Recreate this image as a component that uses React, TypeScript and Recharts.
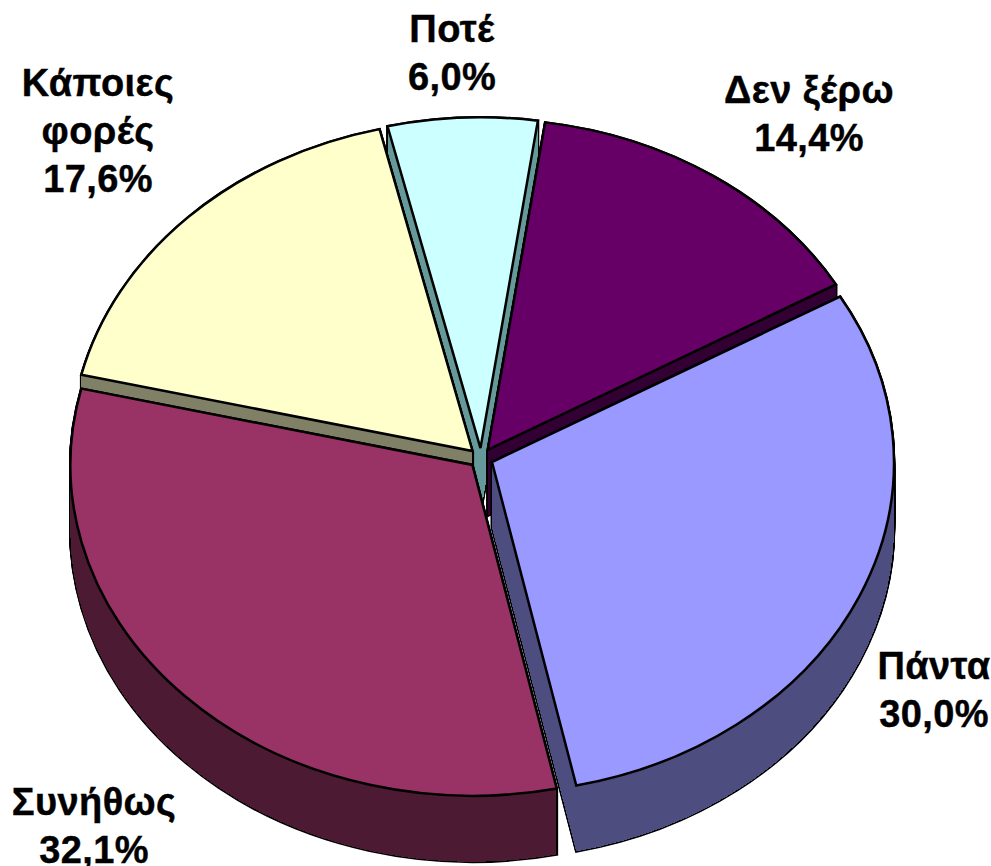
import { PieChart, Pie, Sector } from "recharts";

const categories = ["Πάντα", "Συνήθως", "Κάποιες φορές", "Ποτέ", "Δεν ξέρω"];
const shares = [30.0, 32.1, 17.6, 6.0, 14.4];
const topColors = ["#9999FF", "#993366", "#FFFFCC", "#CCFFFF", "#660066"];
const wallColors = ["#4D4D80", "#4D1A33", "#808066", "#669999", "#330033"];
const labelLines = [["Πάντα"], ["Συνήθως"], ["Κάποιες", "φορές"], ["Ποτέ"], ["Δεν ξέρω"]];

// back to front, a later slice has to hide the walls of the earlier ones
const paintOrder = [3, 4, 2, 0, 1];

// label anchor (middle, first baseline) relative to the pie centre
const labelAnchors = [
  [453, 221],
  [-387, 357],
  [-383, -362],
  [-29, -416],
  [328, -355],
];

const CX = 481;
const CY = 458;
const RADIUS = 402;
const TILT = 0.823;
const DEPTH = 66;
const EXPLODE = 12;

const data = categories.map((name, i) => ({ name, value: shares[i] }));
const depthSteps = Array.from({ length: DEPTH + 1 }, (_, i) => DEPTH - i);

function slice(props: any, step: number, fill: string, stroke: string, strokeWidth: number) {
  const { cx, cy, outerRadius, startAngle, endAngle } = props;
  const mid = (((startAngle + endAngle) / 2) * Math.PI) / 180;
  const dx = EXPLODE * Math.cos(mid);
  const dy = -EXPLODE * Math.sin(mid);
  return (
    <g
      key={`${fill}-${stroke}-${step}`}
      transform={`translate(${cx} ${cy + step}) scale(1 ${TILT}) translate(${dx} ${dy}) translate(${-cx} ${-cy})`}
    >
      <Sector
        cx={cx}
        cy={cy}
        innerRadius={0}
        outerRadius={outerRadius}
        startAngle={startAngle}
        endAngle={endAngle}
        fill={fill}
        stroke={stroke}
        strokeWidth={strokeWidth}
        vectorEffect="non-scaling-stroke"
      />
    </g>
  );
}

function SliceShape(props: any, only: number) {
  if (props.index !== only) return <g />;
  return (
    <g>
      {depthSteps.map((s) => slice(props, s, "#000", "#000", 2.5))}
      <g shapeRendering="crispEdges">
        {depthSteps.map((s) => slice(props, s, wallColors[only], "none", 0))}
      </g>
      {slice(props, 0, topColors[only], "#000", 2.5)}
    </g>
  );
}

function renderLabel(props: any) {
  const i = props.index;
  const [ax, ay] = labelAnchors[i];
  const lines = [...labelLines[i], `${shares[i].toFixed(1).replace(".", ",")}%`];
  return (
    <text
      key={i}
      x={CX + ax}
      y={CY + ay}
      textAnchor="middle"
      fontFamily="'Liberation Sans', Arial, sans-serif"
      fontSize={38}
      fontWeight="bold"
      letterSpacing={0.4}
      fill="#000"
      stroke="#000"
      strokeWidth={0.4}
    >
      {lines.map((line, j) => (
        <tspan key={j} x={CX + ax} dy={j === 0 ? 0 : 48}>
          {line}
        </tspan>
      ))}
    </text>
  );
}

export default function App() {
  return (
    <div style={{ position: "absolute", left: 0, top: 0, width: 991, height: 866, background: "#fff" }}>
      <PieChart width={991} height={866} margin={{ top: 0, right: 0, bottom: 0, left: 0 }}>
        {paintOrder.map((idx) => (
          <Pie
            key={idx}
            data={data}
            dataKey="value"
            nameKey="name"
            cx={CX}
            cy={CY}
            innerRadius={0}
            outerRadius={RADIUS}
            startAngle={30}
            endAngle={-330}
            isAnimationActive={false}
            labelLine={false}
            label={idx === paintOrder[paintOrder.length - 1] ? renderLabel : false}
            shape={(p: any) => SliceShape(p, idx)}
          />
        ))}
      </PieChart>
    </div>
  );
}
